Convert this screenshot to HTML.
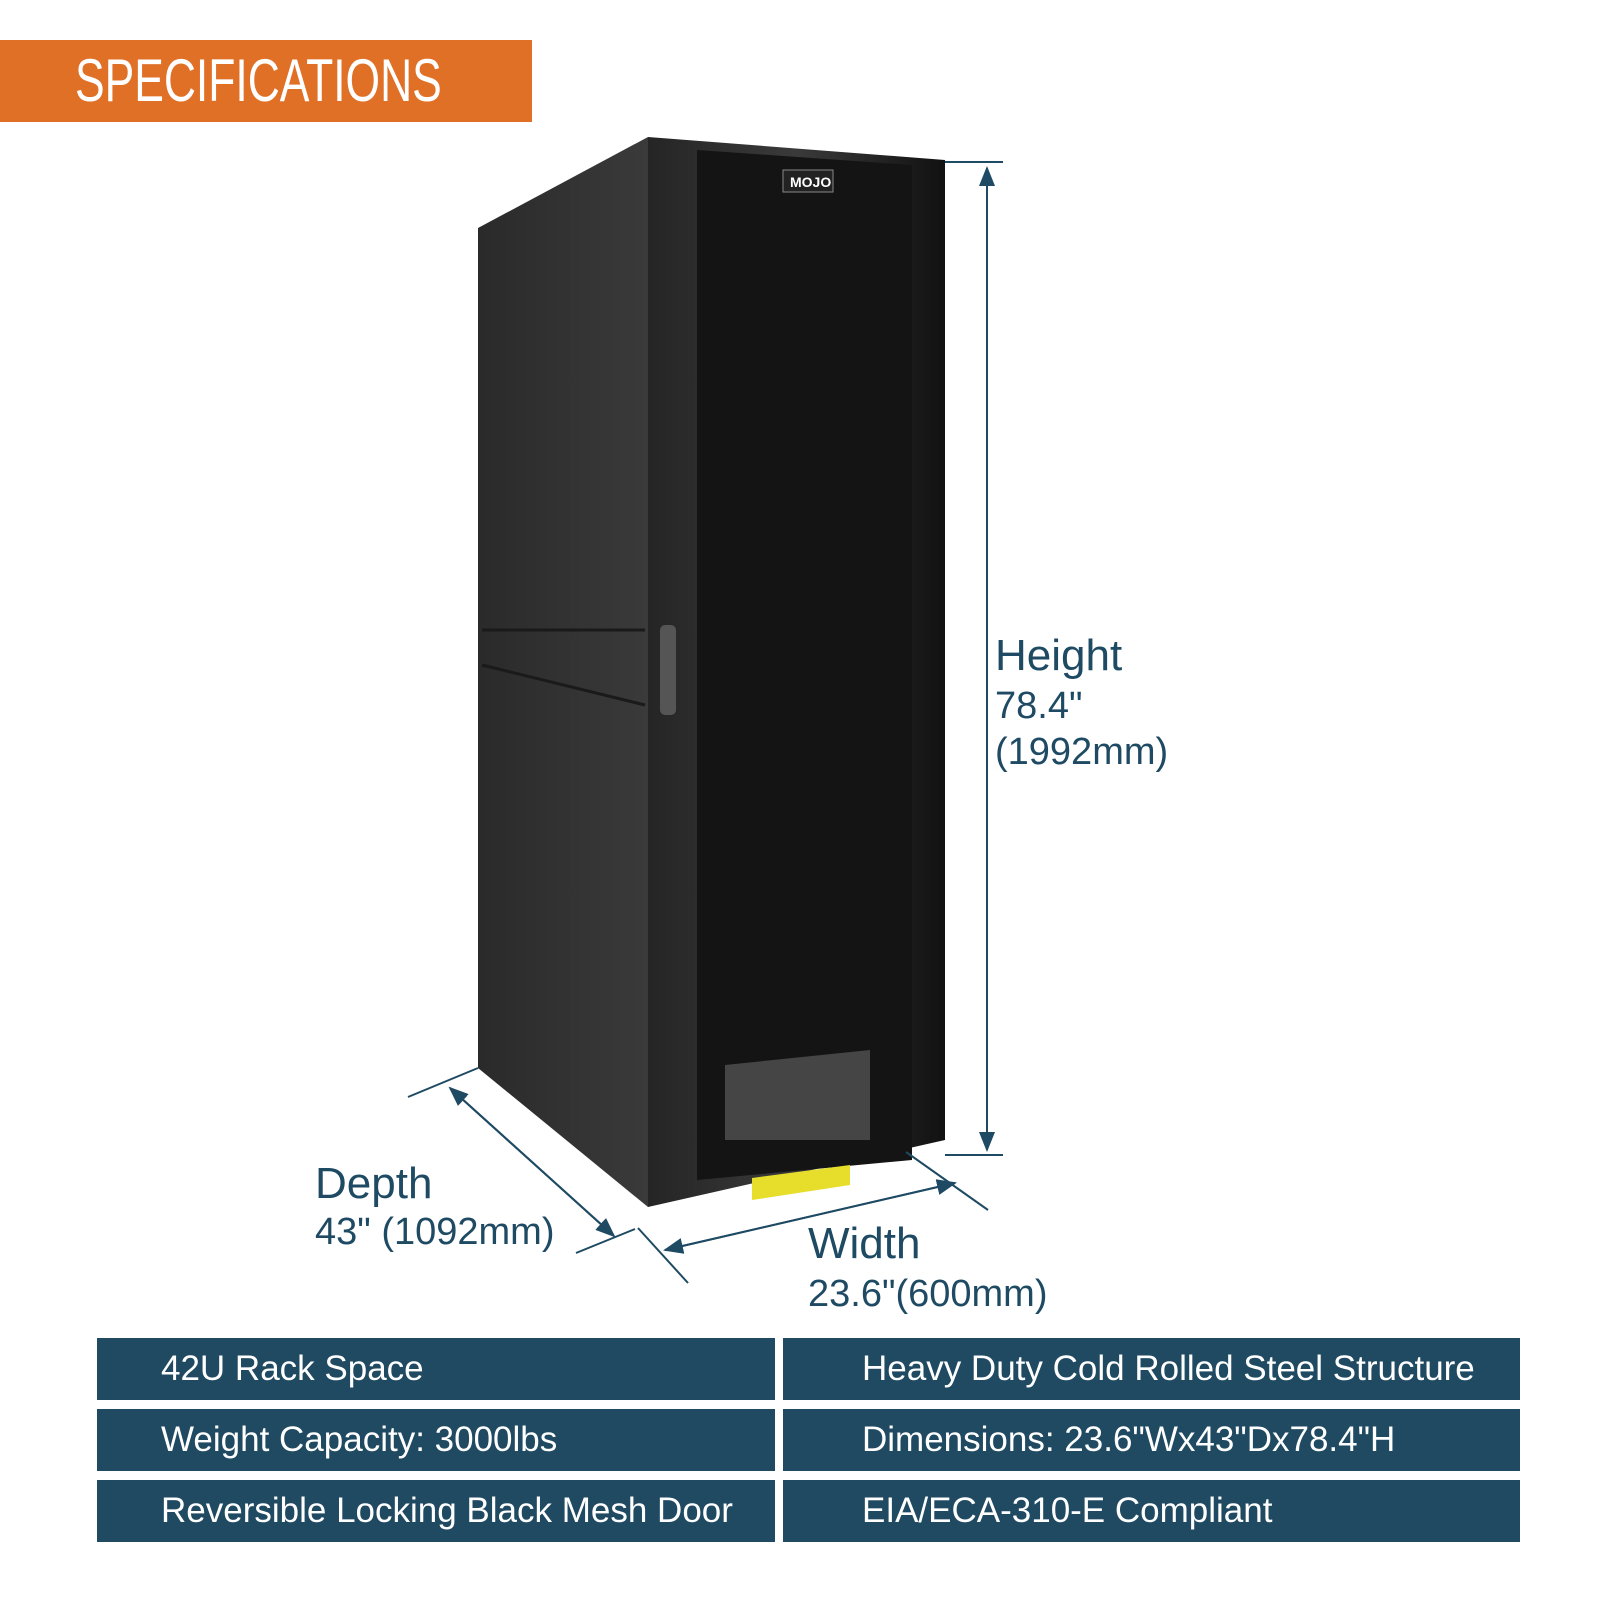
<!DOCTYPE html>
<html><head><meta charset="utf-8"><style>
body{margin:0;width:1600px;height:1599px;background:#fff;position:relative;overflow:hidden;font-family:"Liberation Sans",sans-serif}
.ban{position:absolute;left:0;top:40px;width:532px;height:82px;background:#e07026;color:#fff;font-size:60px;line-height:82px;padding-left:75px;box-sizing:border-box}
.ban span{display:inline-block;transform:scaleX(.74);transform-origin:left}
.lbl{position:absolute;color:#1e4a63;line-height:1.2}
.cell{position:absolute;height:62px;background:#1f4a62;color:#fff;font-size:35px;line-height:62px;box-sizing:border-box}
</style></head><body>
<div class="ban"><span>SPECIFICATIONS</span></div>
<svg width="1600" height="1599" style="position:absolute;left:0;top:0">
<defs>
<linearGradient id="side" x1="0" x2="1"><stop offset="0" stop-color="#2a2a2a"/><stop offset="1" stop-color="#3a3a3a"/></linearGradient>
<linearGradient id="fr" x1="0" x2="1"><stop offset="0" stop-color="#252525"/><stop offset=".5" stop-color="#3a3a3a"/><stop offset="1" stop-color="#111"/></linearGradient>
<marker id="a" markerWidth="10" markerHeight="10" refX="9" refY="5" orient="auto"><path d="M0,1 L10,5 L0,9z" fill="#1e4a63"/></marker>
</defs>
<polygon points="478,228 648,137 648,1207 478,1068" fill="url(#side)"/>
<line x1="482" y1="630" x2="645" y2="630" stroke="#1a1a1a" stroke-width="3"/>
<line x1="482" y1="665" x2="645" y2="705" stroke="#1a1a1a" stroke-width="3"/>
<polygon points="648,137 945,160 945,1140 648,1207" fill="url(#fr)"/>
<polygon points="697,150 912,165 912,1160 697,1180" fill="#141414"/>
<polygon points="725,1065 870,1050 870,1140 725,1140" fill="#5a5a5a" opacity=".7"/>
<polygon points="752,1178 850,1165 850,1185 752,1200" fill="#e6de2a"/>
<rect x="660" y="625" width="16" height="90" rx="5" fill="#555"/>
<rect x="783" y="170" width="50" height="22" fill="#222" stroke="#888"/>
<text x="790" y="187" fill="#fff" font-size="14" font-weight="bold">MOJO</text>
<g stroke="#1e4a63" stroke-width="2" fill="none">
<line x1="945" y1="162" x2="1003" y2="162"/><line x1="945" y1="1155" x2="1003" y2="1155"/>
<line x1="987" y1="1150" x2="987" y2="168" marker-end="url(#a)"/><line x1="987" y1="168" x2="987" y2="1150" marker-end="url(#a)"/>
<line x1="408" y1="1097" x2="478" y2="1068"/><line x1="576" y1="1253" x2="635" y2="1229"/>
<line x1="450" y1="1088" x2="614" y2="1236" marker-end="url(#a)"/><line x1="614" y1="1236" x2="450" y2="1088" marker-end="url(#a)"/>
<line x1="638" y1="1228" x2="688" y2="1283"/><line x1="906" y1="1152" x2="988" y2="1210"/>
<line x1="665" y1="1250" x2="955" y2="1183" marker-end="url(#a)"/><line x1="955" y1="1183" x2="665" y2="1250" marker-end="url(#a)"/>
</g>
</svg>
<div class="lbl" style="left:995px;top:630px;font-size:44px">Height</div>
<div class="lbl" style="left:995px;top:684px;font-size:38px">78.4"<br>(1992mm)</div>
<div class="lbl" style="left:315px;top:1158px;font-size:44px">Depth</div>
<div class="lbl" style="left:315px;top:1210px;font-size:38px">43" (1092mm)</div>
<div class="lbl" style="left:808px;top:1218px;font-size:44px">Width</div>
<div class="lbl" style="left:808px;top:1272px;font-size:38px">23.6"(600mm)</div>
<div class="cell" style="left:97px;top:1338px;width:678px;padding-left:64px">42U Rack Space</div>
<div class="cell" style="left:783px;top:1338px;width:737px;padding-left:79px">Heavy Duty Cold Rolled Steel Structure</div>
<div class="cell" style="left:97px;top:1409px;width:678px;padding-left:64px">Weight Capacity: 3000lbs</div>
<div class="cell" style="left:783px;top:1409px;width:737px;padding-left:79px">Dimensions: 23.6"Wx43"Dx78.4"H</div>
<div class="cell" style="left:97px;top:1480px;width:678px;padding-left:64px">Reversible Locking Black Mesh Door</div>
<div class="cell" style="left:783px;top:1480px;width:737px;padding-left:79px">EIA/ECA-310-E Compliant</div>
</body></html>
